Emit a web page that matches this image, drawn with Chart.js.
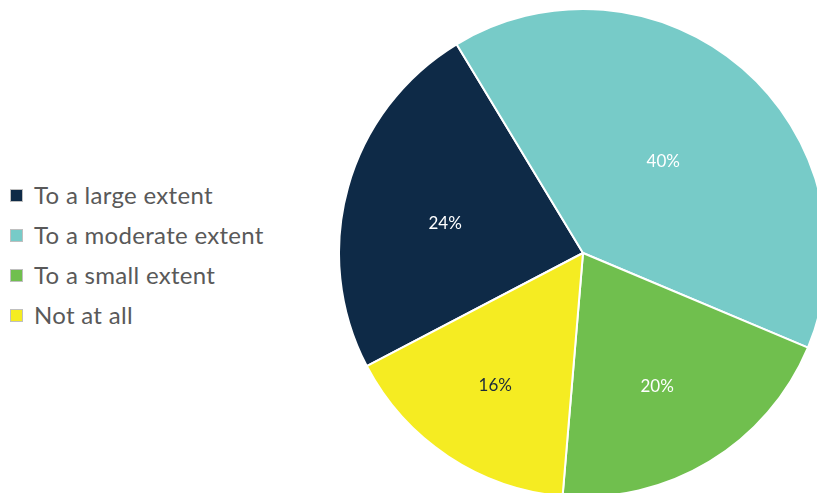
<!DOCTYPE html>
<html>
<head>
<meta charset="utf-8">
<script src="https://cdn.jsdelivr.net/npm/chart.js@4.4.1/dist/chart.umd.min.js"></script>
<style>
  html, body { margin: 0; padding: 0; background: #fff; overflow: hidden; width: 817px; height: 493px; }
  #legend { position: absolute; left: 10px; top: 175.5px; font-family: Lato, "Open Sans", sans-serif; font-size: 24px; letter-spacing: 0.3px; color: #595959; }
  #legend .row { height: 40px; display: flex; align-items: center; }
  #legend .box { width: 13px; height: 13px; box-sizing: border-box; border: 1px solid #bfbfbf; margin-right: 11px; }
  #legend .txt { position: relative; top: -1px; }
  #pieWrap { position: absolute; left: 338px; top: 8px; width: 490px; height: 490px; }
</style>
</head>
<body>
<div id="legend"></div>
<div id="pieWrap"><canvas id="pie"></canvas></div>
<script>
const categories = ["To a large extent", "To a moderate extent", "To a small extent", "Not at all"];
const shares     = [24, 40, 20, 16];
const colors     = ["#0e2a47", "#77cbc8", "#70bf4e", "#f5ec22"];
const labelInk   = ["#ffffff", "#ffffff", "#ffffff", "#1c2b3a"];
// label placement: distance as fraction of radius, and a small angular nudge (deg)
const labelDist  = [0.578, 0.498, 0.625, 0.65];
const labelNudge = [-3.5, 0.5, 2.1, 0];

// legend on the left, built from the same arrays
const legendEl = document.getElementById("legend");
categories.forEach((name, i) => {
  const row = document.createElement("div");
  row.className = "row";
  row.innerHTML = `<span class="box" style="background:${colors[i]}"></span><span class="txt">${name}</span>`;
  legendEl.appendChild(row);
});

// Inline plugin: percentage text inside each slice
const pctLabels = {
  id: "pctLabels",
  afterDatasetsDraw(chart) {
    const ctx = chart.ctx;
    const meta = chart.getDatasetMeta(0);
    meta.data.forEach((arc, i) => {
      const { x, y, startAngle, endAngle, outerRadius } = arc.getProps(["x", "y", "startAngle", "endAngle", "outerRadius"], true);
      const mid = (startAngle + endAngle) / 2 + labelNudge[i] * Math.PI / 180;
      const r = outerRadius * labelDist[i];
      ctx.save();
      ctx.fillStyle = labelInk[i];
      ctx.font = "17px Lato, 'Open Sans', sans-serif";
      ctx.textAlign = "center";
      ctx.textBaseline = "middle";
      ctx.fillText(shares[i] + "%", x + Math.cos(mid) * r, y + Math.sin(mid) * r);
      ctx.restore();
    });
  }
};

// start the first slice so the moderate slice begins at about 11 o'clock
const firstStart = -31.2 - shares[0] * 3.6;

new Chart(document.getElementById("pie"), {
  type: "pie",
  data: {
    labels: categories,
    datasets: [{
      data: shares,
      backgroundColor: colors,
      borderColor: "#ffffff",
      borderWidth: 2,
      hoverOffset: 0,
    }]
  },
  plugins: [pctLabels],
  options: {
    responsive: true,
    maintainAspectRatio: false,
    animation: false,
    rotation: firstStart,
    layout: { padding: 0 },
    plugins: {
      legend: { display: false },
      tooltip: { enabled: false },
    }
  }
});
</script>
</body>
</html>
